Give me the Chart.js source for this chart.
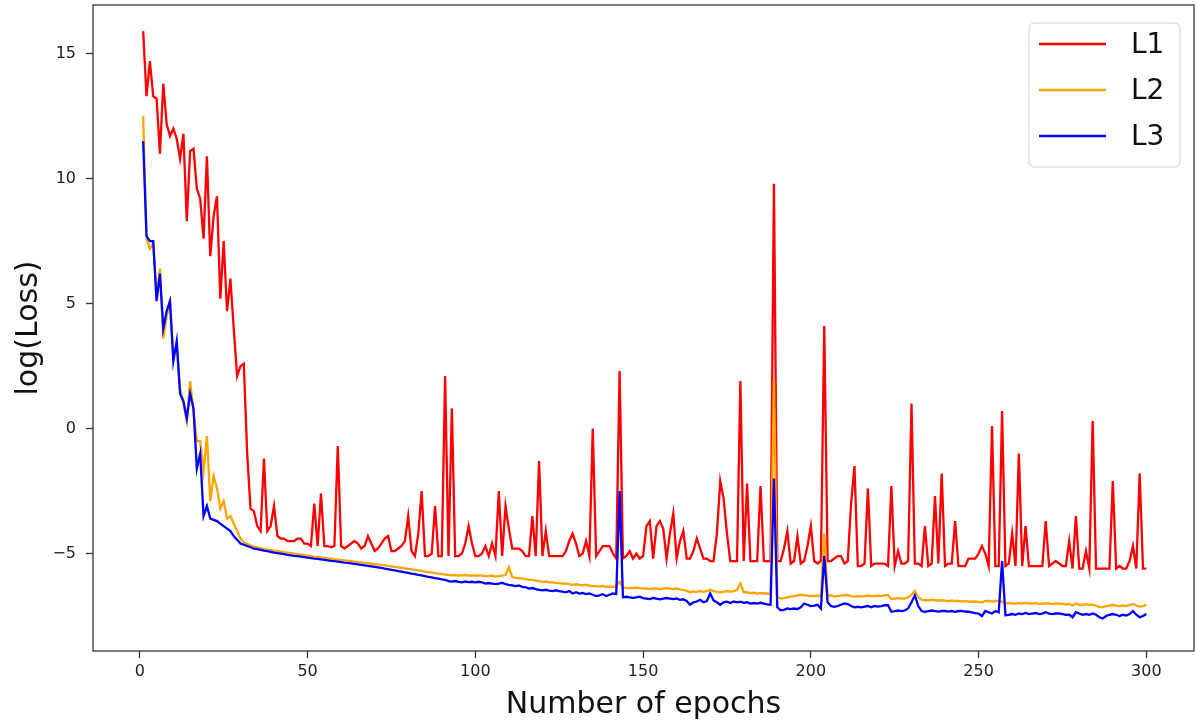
<!DOCTYPE html>
<html>
<head>
<meta charset="utf-8">
<script src="https://cdn.jsdelivr.net/npm/chart.js@4.4.1/dist/chart.umd.min.js"></script>
<style>
  html, body { margin: 0; padding: 0; background: #fff; }
  #wrap { width: 1197px; height: 728px; }
</style>
</head>
<body>
<div id="wrap"><canvas id="lossChart" width="1197" height="728"></canvas></div>
<script>
// epochs 1..300
const epochs = Array.from({ length: 300 }, (_, i) => i + 1);
const seriesNames = ['L1', 'L2', 'L3'];
const xTicks = [0, 50, 100, 150, 200, 250, 300];
const yTicks = [-5, 0, 5, 10, 15];

const lossL1 = [
  15.9, 13.3, 14.7, 13.3, 13.2, 11.0, 13.8, 12.2, 11.7, 12.0,
  11.6, 10.8, 11.8, 8.3, 11.1, 11.2, 9.6, 9.2, 7.6, 10.9,
  6.9, 8.5, 9.3, 5.2, 7.5, 4.7, 6.0, 4.0, 2.1, 2.5,
  2.6, -1.0, -3.2, -3.3, -3.9, -4.1, -1.2, -4.1, -3.9, -3.1,
  -4.3, -4.4, -4.4, -4.5, -4.5, -4.5, -4.4, -4.4, -4.6, -4.6,
  -4.7, -3.0, -4.7, -2.6, -4.7, -4.7, -4.75, -4.7, -0.7, -4.7,
  -4.8, -4.7, -4.6, -4.5, -4.6, -4.8, -4.7, -4.3, -4.6, -4.9,
  -4.8, -4.6, -4.4, -4.3, -4.9, -4.9, -4.8, -4.7, -4.5, -3.5,
  -4.9, -5.1, -4.2, -2.5, -5.1, -5.1, -5.0, -3.1, -5.1, -5.1,
  2.1, -5.1, 0.8, -5.1, -5.1, -5.0, -4.6, -3.9, -4.6, -5.1,
  -5.1, -5.0, -4.7, -5.1, -4.6, -5.1, -2.5, -5.1, -3.1, -4.0,
  -4.8, -4.8, -4.8, -4.9, -5.1, -5.1, -3.5, -5.1, -1.3, -5.1,
  -4.1, -5.1, -5.1, -5.1, -5.1, -5.1, -4.9, -4.5, -4.2, -4.6,
  -5.1, -5.0, -4.5, -5.1, 0.0, -5.1, -4.9, -4.7, -4.7, -4.7,
  -5.0, -5.2, 2.3, -5.2, -5.1, -4.9, -5.2, -5.0, -5.2, -5.1,
  -3.9, -3.7, -5.2, -3.9, -3.7, -4.0, -5.2, -4.2, -3.4, -5.2,
  -4.5, -4.1, -5.2, -5.2, -4.9, -4.4, -4.8, -5.2, -5.2, -5.3,
  -5.3, -4.2, -2.1, -2.8, -4.2, -5.3, -5.3, -5.3, 1.9, -5.3,
  -2.2, -5.3, -5.3, -5.3, -2.3, -5.3, -5.3, -5.3, 9.8, -5.3,
  -5.3, -4.8, -4.1, -5.4, -5.3, -4.3, -5.4, -5.3, -4.7, -3.9,
  -5.3, -5.4, -5.3, 4.1, -5.3, -5.3, -5.2, -5.1, -5.1, -5.4,
  -5.3, -3.0, -1.5, -5.5, -5.5, -5.4, -2.4, -5.5, -5.4, -5.4,
  -5.4, -5.4, -5.5, -2.3, -5.5, -4.9, -5.4, -5.4, -5.3, 1.0,
  -5.4, -5.4, -5.5, -3.9, -5.5, -5.4, -2.7, -5.4, -1.8, -5.5,
  -5.4, -5.4, -3.7, -5.5, -5.5, -5.5, -5.2, -5.2, -5.2, -5.0,
  -4.7, -5.0, -5.5, 0.1, -5.5, -5.5, 0.7, -5.5, -5.4, -4.2,
  -5.5, -1.0, -5.5, -3.9, -5.5, -5.5, -5.5, -5.5, -5.5, -3.7,
  -5.5, -5.4, -5.3, -5.4, -5.5, -5.5, -4.5, -5.6, -3.5, -5.6,
  -5.6, -4.9, -5.6, 0.3, -5.6, -5.6, -5.6, -5.6, -5.6, -2.1,
  -5.6, -5.5, -5.6, -5.6, -5.3, -4.7, -5.6, -1.8, -5.6, -5.6
];

const lossL2 = [
  12.5, 7.6, 7.2, 7.4, 5.3, 6.4, 3.6, 4.5, 5.0, 2.9,
  3.3, 1.6, 1.0, 0.3, 1.9, 0.7, -0.5, -0.5, -1.7, -0.3,
  -2.9, -1.9, -2.4, -3.2, -2.9, -3.6, -3.5, -3.8, -4.1, -4.4,
  -4.55, -4.62, -4.67, -4.72, -4.75, -4.78, -4.81, -4.84, -4.86, -4.88,
  -4.9, -4.92, -4.94, -4.96, -4.98, -5.0, -5.02, -5.04, -5.06, -5.08,
  -5.1, -5.12, -5.13, -5.15, -5.17, -5.19, -5.2, -5.22, -5.24, -5.25,
  -5.27, -5.28, -5.3, -5.32, -5.33, -5.35, -5.37, -5.38, -5.4, -5.42,
  -5.44, -5.45, -5.47, -5.49, -5.51, -5.53, -5.55, -5.57, -5.59, -5.61,
  -5.63, -5.65, -5.67, -5.69, -5.72, -5.74, -5.76, -5.78, -5.8, -5.82,
  -5.84, -5.85, -5.87, -5.86, -5.88, -5.87, -5.86, -5.88, -5.87, -5.88,
  -5.87, -5.88, -5.9, -5.9, -5.88, -5.92, -5.9, -5.88, -5.85, -5.55,
  -5.95, -5.97, -5.98, -6.0, -6.02, -6.05, -6.05, -6.08, -6.1, -6.13,
  -6.12, -6.15, -6.15, -6.17, -6.18, -6.2, -6.2, -6.22, -6.25, -6.23,
  -6.25, -6.27, -6.25, -6.28, -6.3, -6.3, -6.32, -6.3, -6.33, -6.32,
  -6.33, -6.3, -6.13, -6.35, -6.37, -6.38, -6.38, -6.36, -6.38, -6.4,
  -6.4, -6.42, -6.4, -6.4, -6.42, -6.4, -6.38, -6.4, -6.42, -6.4,
  -6.43, -6.45, -6.5, -6.55, -6.52, -6.53, -6.5, -6.53, -6.5, -6.45,
  -6.5, -6.53, -6.55, -6.52, -6.5, -6.52, -6.5, -6.45, -6.2, -6.55,
  -6.55, -6.58, -6.57, -6.6, -6.58, -6.6, -6.6, -6.62, 2.0, -6.75,
  -6.8, -6.78, -6.75, -6.72, -6.7, -6.67, -6.65, -6.67, -6.68, -6.7,
  -6.7, -6.68, -6.72, -4.2, -6.7, -6.67, -6.72, -6.7, -6.68, -6.67,
  -6.67, -6.7, -6.72, -6.7, -6.72, -6.7, -6.68, -6.7, -6.7, -6.68,
  -6.7, -6.67, -6.67, -6.82, -6.8, -6.78, -6.8, -6.8, -6.75, -6.65,
  -6.5, -6.75, -6.85, -6.87, -6.87, -6.85, -6.87, -6.88, -6.87, -6.88,
  -6.9, -6.88, -6.9, -6.9, -6.92, -6.9, -6.92, -6.93, -6.92, -6.93,
  -6.95, -6.9, -6.9, -6.92, -6.9, -6.9, -6.92, -7.0, -6.98, -7.0,
  -7.0, -6.98, -7.0, -6.97, -7.0, -7.0, -6.98, -7.02, -7.0, -7.0,
  -7.0, -7.02, -7.0, -7.0, -7.02, -7.03, -7.02, -7.08, -7.0, -7.05,
  -7.05, -7.03, -7.05, -7.05, -7.08, -7.13, -7.15, -7.1, -7.08, -7.05,
  -7.08, -7.1, -7.08, -7.1, -7.05, -7.02, -7.08, -7.12, -7.1, -7.05
];

const lossL3 = [
  11.5, 7.7, 7.5, 7.5, 5.1, 6.2, 4.0, 4.7, 5.1, 2.7,
  3.5, 1.4, 1.1, 0.4, 1.4, 0.8, -1.6, -1.0, -3.5, -3.1,
  -3.6, -3.65, -3.7, -3.8, -3.9, -4.0, -4.1, -4.3, -4.45, -4.6,
  -4.65, -4.7, -4.75, -4.8, -4.82, -4.85, -4.88, -4.9, -4.93, -4.96,
  -4.98, -5.0, -5.02, -5.05, -5.07, -5.09, -5.1, -5.12, -5.14, -5.16,
  -5.18, -5.2, -5.21, -5.23, -5.25, -5.27, -5.29, -5.3, -5.32, -5.34,
  -5.36, -5.37, -5.39, -5.41, -5.43, -5.45, -5.47, -5.49, -5.51, -5.53,
  -5.55, -5.57, -5.6, -5.62, -5.65, -5.67, -5.7, -5.72, -5.75, -5.77,
  -5.8, -5.82, -5.85, -5.87, -5.9, -5.93, -5.95, -5.98, -6.0, -6.03,
  -6.05, -6.1, -6.12, -6.1, -6.13, -6.15, -6.12, -6.14, -6.13, -6.15,
  -6.13, -6.15, -6.2, -6.18, -6.2, -6.22, -6.2, -6.17, -6.22, -6.25,
  -6.27, -6.3, -6.28, -6.33, -6.35, -6.4, -6.38, -6.42, -6.45, -6.47,
  -6.45, -6.48, -6.5, -6.47, -6.5, -6.52, -6.55, -6.5, -6.6, -6.55,
  -6.6, -6.58, -6.62, -6.6, -6.65, -6.7, -6.67, -6.63, -6.7, -6.65,
  -6.6, -6.62, -2.5, -6.75, -6.73, -6.75, -6.77, -6.75, -6.73, -6.78,
  -6.8, -6.82, -6.78, -6.8, -6.83, -6.8, -6.78, -6.8, -6.82, -6.8,
  -6.85, -6.83, -6.9, -7.05, -6.95, -6.92, -6.85, -6.95, -6.9, -6.6,
  -6.88, -6.95, -7.05, -6.95, -6.93, -6.98, -6.92, -6.95, -6.93, -6.97,
  -6.95, -7.0, -6.98, -7.0, -6.97, -7.0, -7.03, -7.05, -2.0, -7.15,
  -7.27, -7.25, -7.2, -7.22, -7.2, -7.22, -7.15, -7.0, -7.05, -7.1,
  -7.08, -7.05, -7.2, -5.1, -6.95, -7.1, -7.13, -7.1, -7.05, -7.0,
  -7.02, -7.1, -7.15, -7.13, -7.15, -7.12, -7.1, -7.15, -7.1, -7.12,
  -7.1, -7.07, -7.07, -7.33, -7.3, -7.28, -7.3, -7.28, -7.2, -6.95,
  -6.67, -7.1, -7.3, -7.33, -7.3, -7.28, -7.3, -7.32, -7.3, -7.3,
  -7.32, -7.3, -7.33, -7.3, -7.3, -7.32, -7.33, -7.35, -7.38, -7.4,
  -7.5, -7.3, -7.35, -7.4, -7.3, -7.35, -5.3, -7.47, -7.45, -7.42,
  -7.45, -7.4, -7.42, -7.38, -7.42, -7.4, -7.38, -7.42, -7.4, -7.35,
  -7.4, -7.42, -7.4, -7.4, -7.42, -7.45, -7.45, -7.55, -7.35, -7.4,
  -7.45, -7.42, -7.45, -7.4, -7.45, -7.55, -7.6, -7.5, -7.45, -7.42,
  -7.45, -7.5, -7.45, -7.48, -7.42, -7.3, -7.45, -7.55, -7.5, -7.42
];

const colors = ['#ff0000', '#ffa500', '#0000ff'];
const allSeries = [lossL1, lossL2, lossL3];

const FONT = "'DejaVu Sans', 'Liberation Sans', sans-serif";

// frame round the plot area (matplotlib spines)
const framePlugin = {
  id: 'frame',
  afterDraw(chart) {
    const { ctx, chartArea: a } = chart;
    ctx.save();
    ctx.strokeStyle = '#333';
    ctx.lineWidth = 1.3;
    ctx.strokeRect(a.left, a.top, a.right - a.left, a.bottom - a.top);
    ctx.restore();
  }
};

// legend box in the upper right corner, drawn from the datasets
const boxLegend = {
  id: 'boxLegend',
  afterDraw(chart) {
    const ctx = chart.ctx;
    const x = 1029, y = 23, w = 151, h = 144, r = 5;
    ctx.save();
    ctx.beginPath();
    ctx.roundRect(x, y, w, h, r);
    ctx.fillStyle = 'rgba(255,255,255,0.8)';
    ctx.fill();
    ctx.strokeStyle = '#d0d0d0';
    ctx.lineWidth = 1;
    ctx.stroke();
    ctx.font = '28px ' + FONT;
    ctx.textBaseline = 'middle';
    chart.data.datasets.forEach((ds, i) => {
      const ly = 44 + i * 46;
      ctx.beginPath();
      ctx.strokeStyle = ds.borderColor;
      ctx.lineWidth = 2.5;
      ctx.moveTo(1039, ly);
      ctx.lineTo(1106, ly);
      ctx.stroke();
      ctx.fillStyle = '#111';
      ctx.fillText(ds.label, 1131, ly + 2);
    });
    ctx.restore();
  }
};

const datasets = allSeries.map((vals, i) => ({
  label: seriesNames[i],
  data: epochs.map((e, k) => ({ x: e, y: vals[k] })),
  borderColor: colors[i],
  backgroundColor: colors[i],
  borderWidth: 2.3,
  pointRadius: 0,
  tension: 0,
  order: 3 - i
}));

// matplotlib writes negative ticks with a real minus sign
const tickText = v => String(v).replace('-', '\u2212');

new Chart(document.getElementById('lossChart'), {
  type: 'line',
  data: { datasets: datasets },
  plugins: [framePlugin, boxLegend],
  options: {
    responsive: false,
    animation: false,
    devicePixelRatio: 1,
    layout: { padding: { top: 5, right: 3, left: 0, bottom: 0 } },
    plugins: {
      legend: { display: false },
      tooltip: { enabled: false }
    },
    scales: {
      x: {
        type: 'linear',
        min: -13.95,
        max: 314.2,
        afterBuildTicks: s => { s.ticks = xTicks.map(v => ({ value: v })); },
        afterFit: s => { s.height = 77; s.paddingLeft = 0; s.paddingRight = 0; },
        grid: { display: true, drawOnChartArea: false, drawTicks: true, tickLength: 7, color: '#333', tickWidth: 1.3 },
        border: { display: false },
        ticks: { color: '#222', font: { family: FONT, size: 16 }, padding: 4, maxRotation: 0, callback: tickText },
        title: {
          display: true, text: 'Number of epochs', color: '#111',
          font: { family: FONT, size: 30 }, padding: { top: 0, bottom: 5 }
        }
      },
      y: {
        type: 'linear',
        min: -8.9,
        max: 16.95,
        afterBuildTicks: s => { s.ticks = yTicks.map(v => ({ value: v })); },
        afterFit: s => { s.width = 93; s.paddingTop = 0; s.paddingBottom = 0; },
        grid: { display: true, drawOnChartArea: false, drawTicks: true, tickLength: 7, color: '#333', tickWidth: 1.3 },
        border: { display: false },
        ticks: { color: '#222', font: { family: FONT, size: 16 }, padding: 10, callback: tickText },
        title: {
          display: true, text: 'log(Loss)', color: '#111',
          font: { family: FONT, size: 30 }, padding: { top: 11, bottom: 0 }
        }
      }
    }
  }
});
</script>
</body>
</html>
